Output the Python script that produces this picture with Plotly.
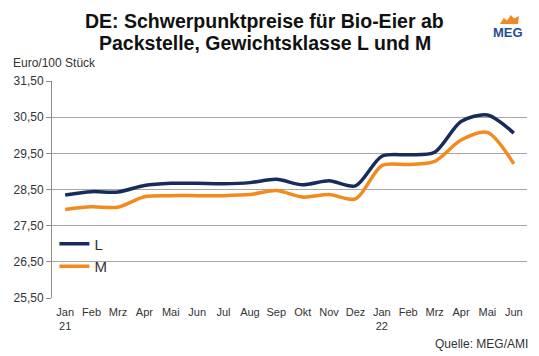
import plotly.graph_objects as go

months = ["Jan<br>21", "Feb", "Mrz", "Apr", "Mai", "Jun", "Jul", "Aug", "Sep", "Okt",
          "Nov", "Dez", "Jan<br>22", "Feb", "Mrz", "Apr", "Mai", "Jun"]
preis_L = [28.35, 28.44, 28.43, 28.61, 28.67, 28.67, 28.66, 28.69, 28.78, 28.63,
           28.74, 28.60, 29.42, 29.46, 29.53, 30.38, 30.56, 30.06]
preis_M = [27.95, 28.02, 28.01, 28.30, 28.33, 28.33, 28.33, 28.36, 28.47, 28.29,
           28.36, 28.24, 29.16, 29.19, 29.28, 29.87, 30.08, 29.21]
y_ticks = [25.5, 26.5, 27.5, 28.5, 29.5, 30.5, 31.5]

x = list(range(len(months)))
FONT = "Liberation Sans, Arial, sans-serif"

fig = go.Figure()
fig.add_trace(go.Scatter(x=x, y=preis_L, name="L", mode="lines",
                         line=dict(color="#172B5C", width=3.5, shape="spline", smoothing=0.8)))
fig.add_trace(go.Scatter(x=x, y=preis_M, name="M", mode="lines",
                         line=dict(color="#F28A1E", width=3.5, shape="spline", smoothing=0.8)))

fig.update_layout(
    width=539, height=356,
    margin=dict(l=52, r=12, t=81, b=58),
    paper_bgcolor="white", plot_bgcolor="white",
    separators=",.",
    font=dict(family=FONT, color="#333333", size=11),
    showlegend=True,
    legend=dict(x=0.005, y=0.325, xanchor="left", yanchor="top",
                bgcolor="rgba(0,0,0,0)", font=dict(size=15, color="#333333"),
                itemwidth=30),
    xaxis=dict(range=[-0.5, len(months) - 0.5], tickvals=x, ticktext=months,
               showgrid=False, zeroline=False, showline=False,
               ticks="", ticklabelstandoff=6, tickfont=dict(size=11, color="#333333")),
    yaxis=dict(range=[25.5, 31.5], tickvals=y_ticks, tickformat=".2f",
               showgrid=True, gridcolor="#A6A6A6", gridwidth=1,
               zeroline=False, showline=True, linecolor="#8C8C8C", linewidth=1,
               ticks="outside", ticklen=5, tickcolor="#8C8C8C",
               tickfont=dict(size=12, color="#333333")),
)

title_font = dict(family=FONT, size=19.5, color="#111111")
fig.add_annotation(text="<b>DE: Schwerpunktpreise für Bio-Eier ab</b>", xref="paper", yref="paper",
                   x=0.448, y=1.2765, xanchor="center", yanchor="middle", showarrow=False,
                   font=title_font)
fig.add_annotation(text="<b>Packstelle, Gewichtsklasse L und M</b>", xref="paper", yref="paper",
                   x=0.448, y=1.175, xanchor="center", yanchor="middle", showarrow=False,
                   font=title_font)
fig.add_annotation(text="Euro/100 Stück", xref="paper", yref="paper", x=-0.086, y=1.083,
                   xanchor="left", yanchor="middle", showarrow=False,
                   font=dict(size=12, color="#333333"))
fig.add_annotation(text="Quelle: MEG/AMI", xref="paper", yref="paper", x=1.006, y=-0.212,
                   xanchor="right", yanchor="middle", showarrow=False,
                   font=dict(size=12, color="#333333"))
fig.add_annotation(text="<b>MEG</b>", xref="paper", yref="paper", x=0.96, y=1.2235,
                   xanchor="center", yanchor="middle", showarrow=False,
                   font=dict(size=13, color="#1F4E96", family=FONT))
fig.add_shape(type="path", xref="paper", yref="paper",
              path="M 0.943 1.263 L 0.951 1.29 L 0.958 1.279 L 0.966 1.304 L 0.973 1.288 "
                   "L 0.983 1.30 L 0.981 1.263 Z",
              fillcolor="#F08A24", line=dict(width=0))

fig.write_html("out.html", config={"displayModeBar": False},
               post_script="document.body.style.margin='0';document.body.style.overflow='hidden';")
